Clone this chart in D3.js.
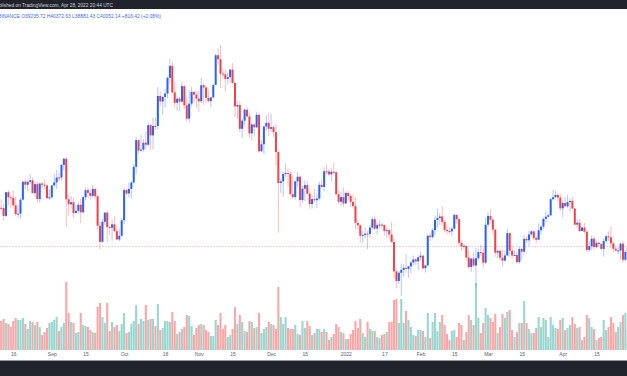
<!DOCTYPE html>
<html>
<head>
<meta charset="utf-8">
<script src="https://cdn.jsdelivr.net/npm/d3@7"></script>
<style>
  body { margin: 0; background: #fff; }
  svg { display: block; }
  .tick text { font-family: "Liberation Sans", Arial, sans-serif; }
</style>
</head>
<body>
<div id="chart"></div>
<script>
// daily BTC/USDT candles, 2021-08-11 .. 2022-04-28
const firstDay = "2021-08-11";

const closes = [
  45555,44428,47834,47096,47019,45936,44686,44741,46763,49339,48905,49321,49546,47707,48993,46852,49078,48897,48807,46991,47100,
  48810,49247,49944,49935,51753,52633,46811,46091,46392,44843,45161,46026,44940,47112,48122,47738,47300,48315,47255,43016,40694,43574,44896,42840,42717,43209,42236,41035,41565,43791,
  48142,47649,48300,49232,51488,55320,53807,53953,54946,54660,57472,56005,57367,57348,61672,60875,61528,62009,64280,66002,62194,60689,61286,60852,63078,60328,58413,60575,62253,61859,61300,
  60911,63219,62896,61395,60937,61470,63273,67525,66947,64882,64774,64122,64380,65466,63557,60161,60368,56942,58120,59697,58730,56289,57569,57159,58961,53726,54721,57275,57806,56951,
  57184,56480,53601,49153,49397,50445,50588,50471,47546,47140,49389,50053,46702,48343,48864,47632,46131,46834,46681,46914,48889,48588,50838,50820,50400,50775,50701,47543,46464,47120,46216,
  47722,47286,46446,45833,43425,43082,41566,41679,41864,41822,42736,43950,42592,43099,43177,43113,42250,42375,41744,40680,36445,35071,36244,36660,36958,36809,37160,37716,38166,37881,38466,
  38694,36896,37311,41574,41382,42380,43840,44118,44338,43565,42407,42244,42197,42586,44575,43961,40538,40030,40122,38431,37075,38286,37296,38328,39219,39116,37700,43160,
  44421,43892,42454,39148,39397,38420,37988,38730,41941,39422,38730,38807,37777,39671,39280,41114,40917,41757,42201,41262,41002,42364,42882,43991,44313,44511,46827,47122,47434,47067,45510,
  46283,45811,46407,46580,45497,43170,43444,42252,42753,42158,39530,40074,41147,39942,40552,40378,39678,40801,41493,41358,40480,39709,39441,39450,40426,38112,39235,40052
];

const opens = [
  45593,45555,44428,47834,47096,47019,45936,44686,44741,46763,49339,48905,49321,49546,47707,48993,46852,49078,48897,48807,46991,
  47100,48810,49247,49944,49935,51753,52633,46811,46091,46392,44843,45161,46026,44940,47112,48122,47738,47300,48315,47255,43016,40694,43574,44896,42840,42717,43209,42236,41035,41565,
  43791,48142,47649,48300,49232,51488,55320,53807,53953,54946,54660,57472,56005,57367,57348,61672,60875,61528,62009,64280,66002,62194,60689,61286,60852,63078,60328,58413,60575,62253,61859,
  61300,60911,63219,62896,61395,60937,61470,63273,67525,66947,64882,64774,64122,64380,65466,63557,60161,60368,56942,58120,59697,58730,56289,57569,57159,58961,53726,54721,57275,57806,
  56951,57184,56480,53601,49153,49397,50445,50588,50471,47546,47140,49389,50053,46702,48343,48864,47632,46131,46834,46681,46914,48889,48588,50838,50820,50400,50775,50701,47543,46464,47120,
  46216,47722,47286,46446,45833,43425,43082,41566,41679,41864,41822,42736,43950,42592,43099,43177,43113,42250,42375,41744,40680,36445,35071,36244,36660,36958,36809,37160,37716,38166,37881,
  38466,38694,36896,37311,41574,41382,42380,43840,44118,44338,43565,42407,42244,42197,42586,44575,43961,40538,40030,40122,38431,37075,38286,37296,38328,39219,39116,37700,
  43160,44421,43892,42454,39148,39397,38420,37988,38730,41941,39422,38730,38807,37777,39671,39280,41114,40917,41757,42201,41262,41002,42364,42882,43991,44313,44511,46827,47122,47434,47067,
  45510,46283,45811,46407,46580,45497,43170,43444,42252,42753,42158,39530,40074,41147,39942,40552,40378,39678,40801,41493,41358,40480,39709,39441,39450,40426,38112,39235.72
];

const highs = [
  46784,46218,47886,48144,47395,48053,47160,46000,47033,49382,49757,49500,50500,49875,49300,49365,49185,49300,49658,48940,48246,
  48888,50450,51000,50558,51900,52780,52920,47400,47340,47031,45987,46460,46876,47250,48500,48500,48150,48843,48370,47359,43639,44000,44978,45200,42966,43937,44350,42787,42590,44132,
  48495,48338,49228,49500,51886,55750,55332,56100,55489,56561,57839,57680,58533,58580,62933,62345,61720,62695,64486,67000,66639,63732,61747,61500,63710,63293,61496,62499,62980,62359,62405,
  62437,64270,63500,63086,62595,61560,63286,67789,68524,69000,65600,65450,64990,65550,66401,63576,61000,60976,58412,59900,60052,59292,57875,57700,59398,59176,55280,57445,58865,59249,
  59053,57375,57600,53859,49699,50857,51936,51200,50796,50100,49485,50724,50205,48700,49500,49436,47995,47392,48300,47537,49328,49576,51375,51810,51156,51280,52088,50704,48139,47900,48548,
  47954,47990,47570,47505,47070,43816,43145,42300,42786,42248,43100,44322,44459,43447,43800,43476,43179,42691,42574,43505,41100,36835,36499,37550,37545,38919,37234,38000,38720,38359,38744,
  39265,38855,37387,41772,41913,42656,44500,45492,44799,45821,43920,43000,42760,42876,44769,44582,44164,40959,40443,40150,39494,38429,39249,39843,39683,40300,39855,44225,
  44949,45400,44101,42527,39613,39693,39547,39362,42594,42039,40236,39486,39310,39947,39887,41718,41478,42325,42400,42296,41544,43361,43025,44220,45094,44792,46999,48190,48096,47700,47600,
  46720,47213,47444,46890,47200,45507,43900,43970,42800,43410,42414,40699,41561,41500,40870,40709,40595,41116,41760,42199,42976,40795,39980,39940,40617,40797,39474,40372.63
];

const lows = [
  45340,43771,44218,45971,45600,45660,44376,44203,43955,46646,48286,48003,49029,47600,47150,46315,46361,48345,48263,46853,46700,
  46853,48584,48316,49400,49500,50969,42843,44413,45514,44134,44722,44742,43371,44750,46700,47020,46750,47050,46829,42500,39600,40565,43089,40675,41646,40803,42098,40888,40753,41410,
  43283,47430,47100,46891,49000,50382,53357,53617,53661,54080,54415,53879,54000,56818,56850,60150,58963,60000,61322,63481,62000,60000,59562,59510,60650,59817,58000,57820,60174,60673,59945,
  59405,60624,60382,60677,60721,60050,61322,63273,66222,62822,64100,62278,63360,63576,63400,58574,58373,56474,55600,57423,58486,55610,55317,55837,57000,53500,53610,53256,56666,55875,
  56458,55777,51680,42000,47727,47100,50039,48600,47320,46852,46751,48638,45672,46290,46547,47511,45456,45500,46406,45558,46630,48421,47920,50384,50142,49412,50449,47313,46096,45900,45678,
  46208,46654,45696,45502,42500,42430,40610,40501,41200,39650,41268,42450,42311,41725,42555,42691,41540,41250,41138,40553,35440,34008,34601,32917,35701,36234,35507,36155,37268,37351,36632,
  38000,36586,36250,37026,40843,41116,41645,42666,43117,43174,42000,41748,41870,41571,42428,43307,40073,39450,39637,38000,36800,36350,37036,34322,38014,38600,37000,37450,
  42809,43334,41832,38550,38407,38088,37155,37867,38656,38539,38223,38660,37578,37555,38098,38828,40500,40135,41499,40911,40467,40875,41751,42560,43579,44071,44422,46663,46930,46445,45200,
  44200,45620,45530,45118,45353,43121,42727,42107,42125,41868,39200,39254,39588,39551,39766,39991,39546,38536,40571,40820,39751,39177,39285,38929,38200,37702,37881,38881.43
];

// volume, thousand BTC
const volumes = [
  58,62,54,52,46,58,64,60,60,64, 52,42,58,56,50,56,46,30,36,44,
  54,56,60,66,38,46,54,136,74,56, 54,34,36,74,50,48,46,40,36,34,
  86,94,66,54,94,38,56,46,50,38, 52,74,34,36,52,58,90,52,62,58,
  90,60,62,62,48,92,40,44,58,58, 56,76,58,32,36,42,46,70,68,48,
  30,44,50,52,50,40,36,28,28,60, 50,74,42,50,26,30,42,86,52,70,
  56,38,36,58,56,44,46,74,34,42, 46,56,52,50,42,126,66,52,66,44,
  42,42,50,32,30,58,44,58,48,30, 34,42,42,36,42,36,20,26,32,52,
  46,36,34,22,22,32,40,58,44,62, 34,26,56,42,38,38,26,24,30,32,
  36,56,56,100,102,54,102,54,78,60, 46,30,28,40,40,38,26,74,24,56,
  74,38,56,70,50,32,20,38,40,26, 54,50,20,36,70,60,50,134,64,34,
  54,84,70,64,56,72,34,46,72,64, 76,80,40,26,36,54,54,98,54,42,
  34,34,44,66,46,64,60,26,66,50, 44,42,60,64,40,44,50,66,52,44,
  46,20,26,70,64,46,42,20,24,26, 60,40,46,66,54,36,46,56,70,74,
  40
];

const tickDates = ["2021-08-16","2021-09-01","2021-09-15","2021-10-01","2021-10-18","2021-11-01","2021-11-15",
  "2021-12-01","2021-12-15","2022-01-01","2022-01-17","2022-02-01","2022-02-15","2022-03-01","2022-03-15","2022-04-01","2022-04-15"];
const tickLabels = ["16","Sep","15","Oct","18","Nov","15","Dec","15","2022","17","Feb","15","Mar","15","Apr","15"];

const headerText = "Published on TradingView.com, Apr 28, 2022 20:44 UTC";
const legendText = "BINANCE O39235.72 H40372.63 L38881.43 C40052.14 +816.42 (+2.08%)";

const width = 627, height = 376;
const upColor = "#2962ff", downColor = "#f0424a";
const volUp = "#9bd6cf", volDown = "#f7a8a8";

const parse = d3.utcParse("%Y-%m-%d");
const start = parse(firstDay);
const days = d3.utcDay.range(start, d3.utcDay.offset(start, closes.length));
const data = days.map((d, i) => ({
  date: d, o: opens[i], h: highs[i], l: lows[i], c: closes[i], v: volumes[i]
}));

const x = d3.scaleUtc()
  .domain([days[0], days[days.length - 1]])
  .range([1.2, 1.2 + (days.length - 1) * 2.41]);

const y = d3.scaleLinear()
  .domain([30000, 70000])
  .range([316.2, 38.05]);

const yVol = d3.scaleLinear()
  .domain([0, 140])
  .range([350, 280]);

const svg = d3.select("#chart").append("svg")
  .attr("width", width)
  .attr("height", height);

svg.append("rect").attr("width", width).attr("height", height).attr("fill", "#fff");

// volume
svg.append("g").selectAll("rect")
  .data(data)
  .enter().append("rect")
  .attr("x", d => x(d.date) - 1.05)
  .attr("width", 2.1)
  .attr("y", d => yVol(d.v))
  .attr("height", d => yVol(0) - yVol(d.v))
  .attr("fill", d => d.c >= d.o ? volUp : volDown);

// last price line
const last = data[data.length - 1];
svg.append("line")
  .attr("x1", 0).attr("x2", width)
  .attr("y1", Math.round(y(last.c)) + 0.5).attr("y2", Math.round(y(last.c)) + 0.5)
  .attr("stroke", "#f4d2d2")
  .attr("stroke-width", 1)
  .attr("stroke-dasharray", "2,1");

// candles
const candle = svg.append("g").selectAll("g")
  .data(data)
  .enter().append("g");

candle.append("line")
  .attr("x1", d => x(d.date))
  .attr("x2", d => x(d.date))
  .attr("y1", d => y(d.h))
  .attr("y2", d => y(d.l))
  .attr("stroke", d => d.c >= d.o ? upColor : downColor)
  .attr("stroke-opacity", 0.35)
  .attr("stroke-width", 1);

candle.append("rect")
  .attr("x", d => x(d.date) - 1)
  .attr("width", 2)
  .attr("y", d => y(Math.max(d.o, d.c)))
  .attr("height", d => Math.max(1, Math.abs(y(d.o) - y(d.c))))
  .attr("fill", d => d.c >= d.o ? upColor : downColor);

// time axis
const xAxis = d3.axisBottom(x)
  .tickValues(tickDates.map(parse))
  .tickFormat((d, i) => tickLabels[i])
  .tickSize(0)
  .tickPadding(0);

const axisG = svg.append("g")
  .attr("transform", "translate(0,352)")
  .call(xAxis);
axisG.select(".domain").remove();
axisG.selectAll("text")
  .attr("font-size", 5)
  .attr("fill", "#5d606b");

// top bar and legend (left part is clipped by the window edge, as in the snapshot)
svg.append("rect").attr("x", 0).attr("y", 0).attr("width", width).attr("height", 9).attr("fill", "#20232c");
svg.append("text")
  .attr("x", 113).attr("y", 6.5)
  .attr("text-anchor", "end")
  .attr("font-family", "Liberation Sans, Arial, sans-serif")
  .attr("font-size", 4.8)
  .attr("fill", "#d1d4dc")
  .text(headerText);

svg.append("text")
  .attr("x", 161).attr("y", 17.5)
  .attr("text-anchor", "end")
  .attr("font-family", "Liberation Sans, Arial, sans-serif")
  .attr("font-size", 4.9)
  .attr("fill", "#3e6cf0")
  .text(legendText);

// bottom bar
svg.append("rect").attr("x", 0).attr("y", 360).attr("width", width).attr("height", 1).attr("fill", "#9598a1");
svg.append("rect").attr("x", 0).attr("y", 361).attr("width", width).attr("height", 15).attr("fill", "#20232c");
</script>
</body>
</html>
